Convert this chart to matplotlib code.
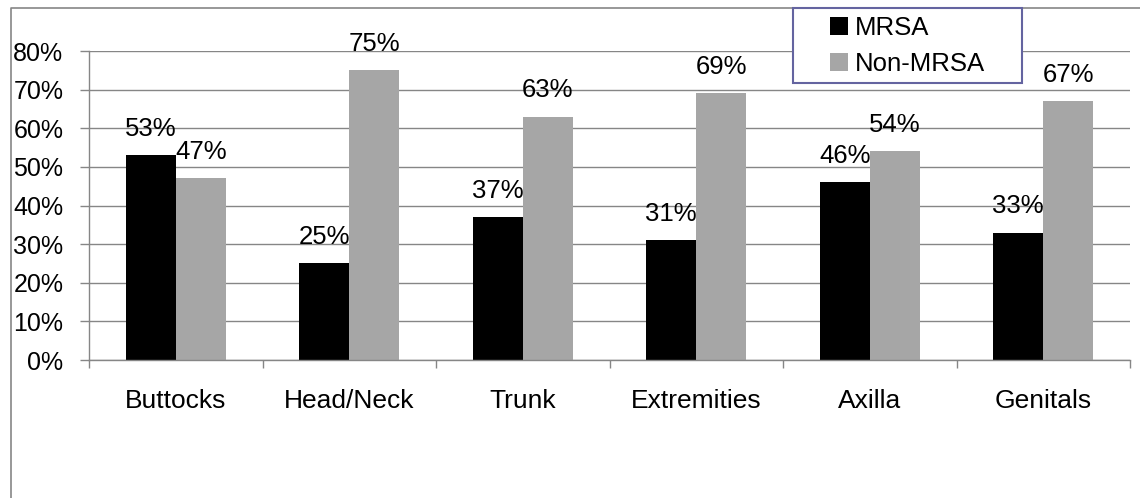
import numpy as np
import matplotlib.pyplot as plt
from matplotlib.patches import Patch, Rectangle
from matplotlib.lines import Line2D
from matplotlib.ticker import FuncFormatter

plt.rcParams['font.family'] = ['Liberation Sans', 'DejaVu Sans']

sites = ['Buttocks', 'Head/Neck', 'Trunk', 'Extremities', 'Axilla', 'Genitals']
mrsa = [53, 25, 37, 31, 46, 33]
non_mrsa = [47, 75, 63, 69, 54, 67]

fig = plt.figure(figsize=(11.4, 4.98), dpi=100)
W, H = 1140, 498
ax = fig.add_axes([89 / W, 1 - 360 / H, 1041 / W, 309 / H])

x = np.arange(len(sites))
bw = 0.288
b1 = ax.bar(x - bw / 2, np.array(mrsa) / 100, bw, color='black', label='MRSA')
b2 = ax.bar(x + bw / 2, np.array(non_mrsa) / 100, bw, color='#a6a6a6', label='Non-MRSA')

# value labels above each bar
for bars, vals in ((b1, mrsa), (b2, non_mrsa)):
    for rect, v in zip(bars, vals):
        ax.annotate(f'{v}%', (rect.get_x() + rect.get_width() / 2, v / 100),
                    xytext=(0, 10.5), textcoords='offset points',
                    ha='center', va='bottom', fontsize=18.5, clip_on=False)

ax.set_xlim(-0.5, len(sites) - 0.5)
ax.set_ylim(0, 0.8)
ax.set_yticks(np.arange(0, 0.81, 0.1))
ax.yaxis.set_major_formatter(FuncFormatter(lambda v, _: f'{v:.0%}'))
ax.yaxis.grid(True, color='#868686', linewidth=1)
ax.set_axisbelow(True)

ax.set_xticks(x)
ax.set_xticklabels(sites)
ax.set_xticks(np.arange(-0.5, len(sites)), minor=True)
ax.tick_params(axis='x', which='major', length=0, pad=21, labelsize=19)
ax.tick_params(axis='x', which='minor', length=6, width=1, color='#868686', direction='out')
ax.tick_params(axis='y', length=6.5, width=1, color='#868686', pad=12, labelsize=18)

for side in ('top', 'right'):
    ax.spines[side].set_visible(False)
for side in ('left', 'bottom'):
    ax.spines[side].set_color('#868686')
    ax.spines[side].set_linewidth(1)

# chart border (left and top edges visible)
fig.add_artist(Line2D([11 / W, 11 / W, 1.0], [0.0, 1 - 8 / H, 1 - 8 / H],
                      transform=fig.transFigure, color='#868686', linewidth=1.2))

# legend with its own frame
fig.add_artist(Rectangle((793 / W, 1 - 83 / H), 229 / W, 75 / H, transform=fig.transFigure,
                         facecolor='white', edgecolor='#6464a0', linewidth=1.5, zorder=5))
handles = [Patch(facecolor='black'), Patch(facecolor='#a6a6a6')]
fig.legend(handles, ['MRSA', 'Non-MRSA'], loc='upper left',
           bbox_to_anchor=(830 / W, 1 - 16 / H), bbox_transform=fig.transFigure,
           frameon=False, fontsize=18.5, borderpad=0, borderaxespad=0,
           handlelength=0.7, handleheight=0.7,
           handletextpad=0.25, labelspacing=0.45).set_zorder(6)

fig.savefig('out.png', dpi=100)
